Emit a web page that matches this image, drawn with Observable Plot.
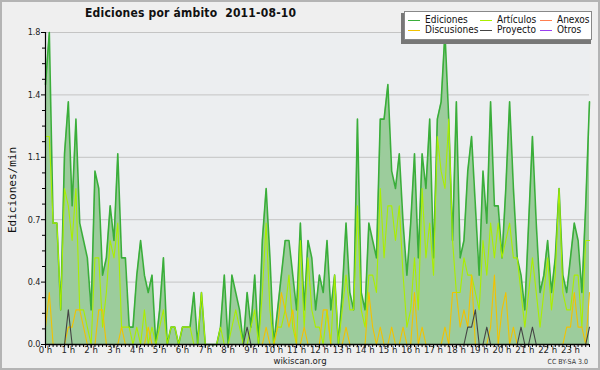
<!DOCTYPE html>
<html><head><meta charset="utf-8">
<script src="https://cdn.jsdelivr.net/npm/d3@7"></script>
<script src="https://cdn.jsdelivr.net/npm/@observablehq/plot@0.6"></script>
<style>
html,body{margin:0;padding:0;background:#efefef}
#wrap{position:relative;width:600px;height:370px;background:#efefef;overflow:hidden;font-family:"DejaVu Sans Condensed","DejaVu Sans",sans-serif;color:#111}
#chart{position:absolute;left:0;top:0}
#border{position:absolute;left:0;top:0;width:600px;height:370px;box-sizing:border-box;border:2px solid #b4b4b4;pointer-events:none}
#title{position:absolute;left:85px;top:6px;font-weight:bold;font-size:12px;white-space:pre;letter-spacing:0.2px}
#ylabel{position:absolute;left:12px;top:190px;transform:translate(-50%,-50%) rotate(-90deg);font-family:"DejaVu Sans Mono",monospace;font-size:11px;white-space:nowrap}
#footer{position:absolute;left:300px;top:355px;transform:translateX(-50%);font-size:9.5px;color:#222}
#cc{position:absolute;right:12px;top:358px;font-size:7px;color:#333}
#legend{position:absolute;left:404px;top:11px;width:186px;height:27px;background:#fff;border:1px solid #888;box-shadow:-2px 3px 0 1px #777}
.li{position:absolute;font-size:10px;white-space:nowrap;line-height:10px}
.sw{position:absolute;height:1px}
</style></head>
<body>
<div id="wrap">
  <div id="chart"></div>
  <div id="title"></div>
  <div id="ylabel"></div>
  <div id="legend"></div>
  <div id="footer"></div>
  <div id="cc"></div>
  <div id="border"></div>
</div>
<script>
// ---- text ----
const titleText = "Ediciones por ámbito  2011-08-10";
const yAxisLabel = "Ediciones/min";
const footerText = "wikiscan.org";
const licenseText = "CC BY-SA 3.0";

// ---- series (edits per minute, 10-minute bins, 00:00 .. 23:50) ----
const seriesNames = ["Ediciones", "Artículos", "Anexos", "Discusiones", "Proyecto", "Otros"];
const seriesColors = ["#3aae3a", "#aaee00", "#ff7f50", "#f2c200", "#444444", "#9a40f0"];

const ediciones = [
 1.5,1.8,0.7,0.7,0.2,1.1,1.4,0.8,1.3,0.7,0.6,0.5,
 0.2,1.0,0.9,0.4,0.5,0.8,0.6,1.1,0.5,0.5,0.1,0.1,
 0.4,0.6,0.4,0.3,0.4,0,0.2,0.5,0,0.1,0.1,0,
 0.1,0.1,0.1,0.3,0,0.3,0,0,0,0,0.1,0.4,
 0,0.4,0.3,0.2,0,0.3,0.1,0.4,0,0.6,0.9,0.5,
 0,0.2,0.4,0.6,0.6,0.4,0.2,0.7,0.2,0.6,0.5,0.2,
 0.4,0.3,0.6,0.2,0.4,0,0.3,0.7,0.3,0.2,1.3,0.3,
 0.2,0.7,0.6,0.5,1.3,1.3,1.5,1.0,0.9,1.1,0.7,0.4,
 0.7,1.1,0.5,1.1,0.9,1.3,0.5,1.3,1.4,1.8,1.3,0.6,
 1.4,0.5,0.6,1.0,1.2,0.8,0.4,1.0,0.7,1.4,0.8,0.8,
 0.5,0.9,1.4,0.9,0.5,0.4,0.2,0.7,1.2,0.7,0.3,0.4,
 0.6,0.3,0.5,0.9,0.4,0.3,0.5,0.7,0.6,0.3,0.8,1.4
];
const articulos = [
 1.2,1.2,0.7,0.7,0.2,0.9,0.8,0.6,0.9,0.2,0.2,0.1,
 0,0.5,0.5,0.1,0.3,0.6,0.5,0.7,0.1,0.1,0.1,0,
 0.1,0,0.2,0,0.1,0,0.1,0.2,0,0.1,0.1,0,
 0.1,0.1,0.1,0,0,0.3,0,0,0,0,0.1,0,
 0,0.1,0.2,0.1,0,0,0.1,0.2,0,0.3,0.7,0.2,
 0,0.1,0.1,0.2,0.4,0.1,0,0.6,0.1,0.5,0.2,0.1,
 0.1,0,0.2,0,0.4,0,0.2,0.4,0.2,0.2,0.8,0.2,
 0.1,0.4,0.4,0.3,0.9,0.5,0.8,0.8,0.6,0.8,0.4,0.1,
 0.2,0.5,0.2,0.9,0.5,0.7,0.4,1.2,1.0,0.9,1.3,0.6,
 0.3,0.3,0.5,0.4,0.4,0.3,0.2,0.6,0.4,0.7,0.5,0.7,
 0.5,0.6,0.7,0.5,0.5,0.3,0.1,0.3,0.5,0.3,0.1,0.3,
 0.5,0.2,0.4,0.9,0.3,0.2,0.2,0.4,0.4,0.1,0.6,0.6
];
const anexos = [
 0,0,0,0,0,0,0,0,0,0,0,0, 0,0,0,0,0,0,0,0,0,0,0,0,
 0,0,0,0,0,0,0,0,0,0,0,0, 0,0,0,0,0,0,0,0,0,0,0,0,
 0,0,0,0,0,0,0,0,0,0,0,0, 0,0,0,0,0,0,0,0,0,0,0,0,
 0,0,0,0,0,0,0,0,0,0,0,0, 0,0,0,0,0,0,0,0,0,0,0,0,
 0,0,0,0,0,0,0,0,0,0,0,0, 0,0,0,0,0,0,0,0,0,0,0,0,
 0,0,0,0,0,0,0,0,0,0,0,0, 0,0,0,0,0,0,0,0,0,0,0,0
];
const discusiones = [
 0.1,0.3,0,0,0,0,0.1,0.1,0.2,0.2,0.1,0,
 0,0,0.2,0.2,0,0,0,0,0.1,0,0,0,
 0,0,0,0.1,0,0,0,0,0,0,0,0,
 0,0,0,0,0,0,0,0,0,0,0,0,
 0,0,0,0,0,0,0,0,0,0,0.1,0,
 0,0.1,0.3,0.2,0.1,0.2,0,0,0.1,0,0,0,
 0,0.2,0.2,0,0,0,0,0.1,0,0,0,0,
 0,0.3,0.1,0,0.1,0,0,0.1,0,0,0.1,0,
 0,0.3,0,0.1,0,0,0,0,0,0.1,0,0.3,
 0.3,0.1,0.2,0.1,0.4,0,0,0,0,0.1,0.4,0,
 0.2,0.3,0,0.1,0,0,0,0,0,0,0,0,
 0,0,0,0,0,0.1,0.1,0.3,0.1,0.1,0,0.3
];
const proyecto = [
 0,0,0,0,0,0,0.2,0,0,0,0,0, 0,0,0,0,0,0,0,0,0,0,0,0,
 0,0,0,0,0,0,0,0,0,0,0,0, 0,0,0,0,0,0,0,0,0,0,0,0,
 0,0,0,0,0,0.1,0,0,0,0,0,0, 0,0,0,0,0,0,0,0,0,0,0,0,
 0,0,0,0,0,0,0,0,0,0,0,0, 0,0,0,0,0,0,0,0,0,0,0,0,
 0,0,0,0,0,0,0,0,0,0,0,0, 0,0,0,0.1,0.1,0.2,0,0,0.1,0,0,0,
 0,0,0,0,0,0.1,0,0,0.1,0,0,0, 0,0,0,0,0,0,0,0,0,0,0,0.1
];
const otros = [
 0,0,0,0,0,0,0,0,0,0,0,0, 0,0,0,0,0,0,0,0,0,0,0,0,
 0,0,0,0,0,0,0,0,0,0,0,0, 0,0,0,0,0,0,0,0,0,0,0,0,
 0,0,0,0,0,0,0,0,0,0,0,0, 0,0,0,0,0,0,0,0,0,0,0,0,
 0,0,0,0,0,0,0,0,0,0,0,0, 0,0,0,0,0,0,0,0,0,0,0,0,
 0,0,0,0,0,0,0,0,0,0,0,0, 0,0,0,0,0,0,0,0,0,0,0,0,
 0,0,0,0,0,0,0,0,0,0,0,0, 0,0,0,0,0,0,0,0,0,0,0,0
];

// ---- axes ----
const hourTicks = [0,1,2,3,4,5,6,7,8,9,10,11,12,13,14,15,16,17,18,19,20,21,22,23];
const hourLabels = ["0 h","1 h","2 h","3 h","4 h","5 h","6 h","7 h","8 h","9 h","10 h","11 h","12 h","13 h","14 h","15 h","16 h","17 h","18 h","19 h","20 h","21 h","22 h","23 h"];
const yTicks = [0, 0.36, 0.72, 1.08, 1.44, 1.8];
const yTickLabels = ["0.0","0.4","0.7","1.1","1.4","1.8"];

// ---- build ----
const slot = ediciones.map((_, i) => i / 6); // hour of each 10-min bin
const rows = slot.map((h, i) => ({h, ediciones: ediciones[i], articulos: articulos[i], anexos: anexos[i],
  discusiones: discusiones[i], proyecto: proyecto[i], otros: otros[i]}));
const yMinor = d3.range(0, yTicks.length - 1).flatMap(k => [1,2,3].map(j => yTicks[k] + (yTicks[k+1]-yTicks[k]) * j / 4));
const xMinor = slot;
const lastH = slot[slot.length - 1];

const lineOpts = (key, color, w) => ({x: "h", y: key, stroke: color, strokeWidth: w, curve: "linear"});

const chart = Plot.plot({
  width: 600, height: 370,
  marginTop: 32, marginBottom: 26, marginLeft: 45, marginRight: 11,
  style: {background: "transparent", fontFamily: "'DejaVu Sans Condensed','DejaVu Sans',sans-serif", color: "#222"},
  x: {domain: [0, lastH]},
  y: {domain: [0, 1.8]},
  marks: [
    Plot.frame({fill: "#eceef0", stroke: null}),
    Plot.gridY(yTicks, {stroke: "#c4c4c4", strokeOpacity: 1, strokeWidth: 1}),
    Plot.areaY(rows, {x: "h", y: "ediciones", fill: "#9ccc9c", fillOpacity: 1, curve: "linear"}),
    Plot.line(rows, lineOpts("ediciones", seriesColors[0], 1.6)),
    Plot.line(rows, lineOpts("articulos", seriesColors[1], 1.1)),
    Plot.line(rows, lineOpts("discusiones", seriesColors[3], 1.1)),
    Plot.line(rows, lineOpts("anexos", seriesColors[2], 1)),
    Plot.line(rows, lineOpts("proyecto", seriesColors[4], 1.1)),
    Plot.line(rows, lineOpts("otros", seriesColors[5], 1)),
    Plot.ruleY([0], {stroke: "#000", strokeWidth: 1.6}),
    Plot.ruleX([0], {stroke: "#000", strokeWidth: 1.2}),
    Plot.axisY(yTicks, {tickSize: 4, tickPadding: 1, fontSize: 9, tickFormat: (d, i) => yTickLabels[i], label: null, stroke: "#000"}),
    Plot.axisY(yMinor, {tickSize: 3, tickFormat: () => "", label: null, stroke: "#000"}),
    Plot.axisX(xMinor, {tickSize: 3, tickFormat: () => "", label: null, stroke: "#000"}),
    Plot.axisX(hourTicks, {tickSize: 4, tickPadding: -2, fontSize: 9.5, tickFormat: (d, i) => hourLabels[i], label: null, stroke: "#000"})
  ]
});
document.getElementById("chart").appendChild(chart);

document.getElementById("title").textContent = titleText;
document.getElementById("ylabel").textContent = yAxisLabel;
document.getElementById("footer").textContent = footerText;
document.getElementById("cc").textContent = licenseText;

// legend: 3 columns x 2 rows
const legend = document.getElementById("legend");
const colX = [3, 75, 135];     // swatch left inside box
const rowY = [8, 18];          // line y inside box
seriesNames.forEach((name, k) => {
  const c = k % 3, r = Math.floor(k / 3);
  const sw = document.createElement("div");
  sw.className = "sw";
  sw.style.left = colX[c] + "px"; sw.style.top = rowY[r] + "px"; sw.style.width = "12px";
  sw.style.background = seriesColors[k];
  legend.appendChild(sw);
  const t = document.createElement("div");
  t.className = "li";
  t.style.left = (colX[c] + 17) + "px"; t.style.top = (rowY[r] - 5) + "px";
  t.textContent = name;
  legend.appendChild(t);
});
</script>
</body></html>
